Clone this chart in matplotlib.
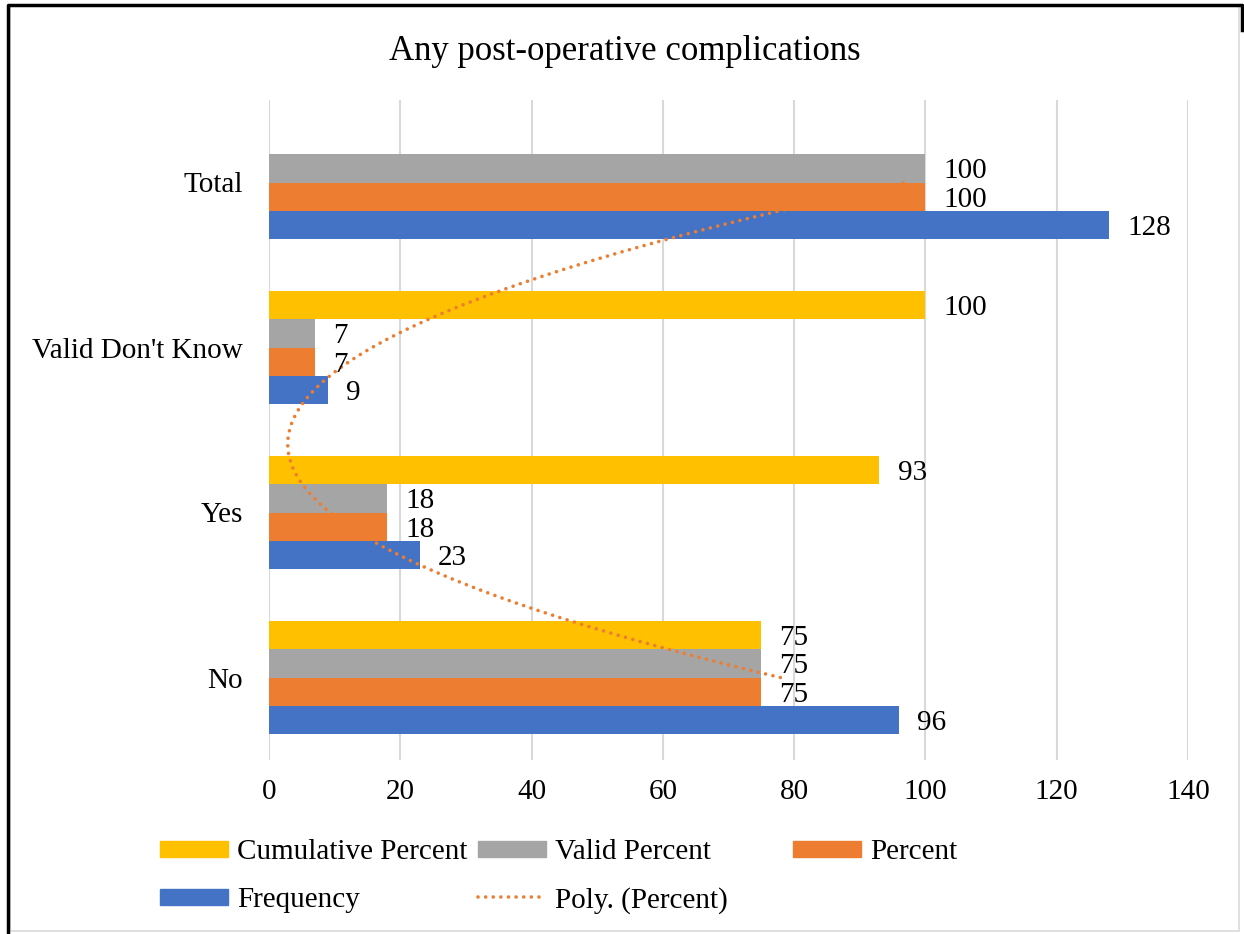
import numpy as np
import matplotlib
matplotlib.use("Agg")
import matplotlib.pyplot as plt
from matplotlib.patches import Rectangle
from matplotlib.lines import Line2D

plt.rcParams["font.family"] = ["Liberation Serif", "DejaVu Serif"]

CATEGORIES = ["No", "Yes", "Valid Don't Know", "Total"]
FREQUENCY = [96, 23, 9, 128]
PERCENT = [75, 18, 7, 100]
VALID_PERCENT = [75, 18, 7, 100]
CUMULATIVE = [75, 93, 100, None]
SERIES = [("Frequency", FREQUENCY, "#4472C4"),
          ("Percent", PERCENT, "#ED7D31"),
          ("Valid Percent", VALID_PERCENT, "#A5A5A5"),
          ("Cumulative Percent", CUMULATIVE, "#FFC000")]
TITLE = "Any post-operative complications"

FS = 21
DOTS = dict(lw=2.6, linestyle=(0, (0.01, 2.1)), dash_capstyle="round")

W, H = 1244, 934
fig = plt.figure(figsize=(W / 100, H / 100), dpi=100)
ax = fig.add_axes([269 / W, 1 - 760 / H, (1188 - 269) / W, (760 - 100) / H])

y = np.arange(len(CATEGORIES))
bh = 0.1707
for k, (name, vals, col) in enumerate(SERIES):
    off = (k - 1.5) * bh
    for i, v in enumerate(vals):
        if v is None:
            continue
        ax.barh(y[i] + off, v, height=bh, color=col, edgecolor="none", zorder=2)
        ax.annotate(f"{v}", (v, y[i] + off), xytext=(13, 0), textcoords="offset points",
                    ha="left", va="center_baseline", fontsize=FS, zorder=4)

# polynomial (order 2) trendline of Percent, like Excel's Poly. trendline
t = np.arange(1, len(PERCENT) + 1)
coef = np.polyfit(t, PERCENT, 2)
ts = np.linspace(1, len(PERCENT), 200)
ax.plot(np.polyval(coef, ts), ts - 1, color="#ED7D31", zorder=3, **DOTS)

ax.set_xlim(0, 140)
ax.set_ylim(-0.5, len(CATEGORIES) - 0.5)
ax.set_xticks(np.arange(0, 141, 20))
ax.set_yticks(y)
ax.set_yticklabels(CATEGORIES)
ax.tick_params(axis="both", length=0, labelsize=FS)
ax.tick_params(axis="x", pad=14)
ax.tick_params(axis="y", pad=19)
ax.grid(axis="x", color="#D9D9D9", lw=1.5, zorder=0)
ax.set_axisbelow(True)
for s in ax.spines.values():
    s.set_visible(False)

fig.text(625 / W, 1 - 51 / H, TITLE, ha="center", va="center", fontsize=25)

# legend laid out like Excel (equal-width columns)
leg = [(160, 849, "Cumulative Percent", "#FFC000", "bar"),
       (478, 849, "Valid Percent", "#A5A5A5", "bar"),
       (793, 849, "Percent", "#ED7D31", "bar"),
       (160, 897, "Frequency", "#4472C4", "bar"),
       (478, 897, "Poly. (Percent)", "#ED7D31", "line")]
for x0, yc, lab, col, kind in leg:
    if kind == "bar":
        fig.add_artist(Rectangle((x0 / W, 1 - (yc + 8) / H), 68 / W, 16 / H,
                                 transform=fig.transFigure, color=col))
    else:
        fig.add_artist(Line2D([x0 / W, (x0 + 66) / W], [1 - yc / H] * 2,
                              transform=fig.transFigure, color=col, **DOTS))
    fig.text((x0 + 77) / W, 1 - yc / H, lab, ha="left", va="center_baseline", fontsize=FS)

# frame
fig.add_artist(Rectangle((10 / W, 3 / H), 1229 / W, 925 / H, transform=fig.transFigure,
                         fill=False, edgecolor="#D9D9D9", lw=1.2))
fig.add_artist(Line2D([8 / W, 8 / W, 1242 / W, 1242 / W], [0, 1 - 5 / H, 1 - 5 / H, 1 - 30 / H],
                      transform=fig.transFigure, color="black", lw=2.5))

fig.savefig("out.png", dpi=100)
